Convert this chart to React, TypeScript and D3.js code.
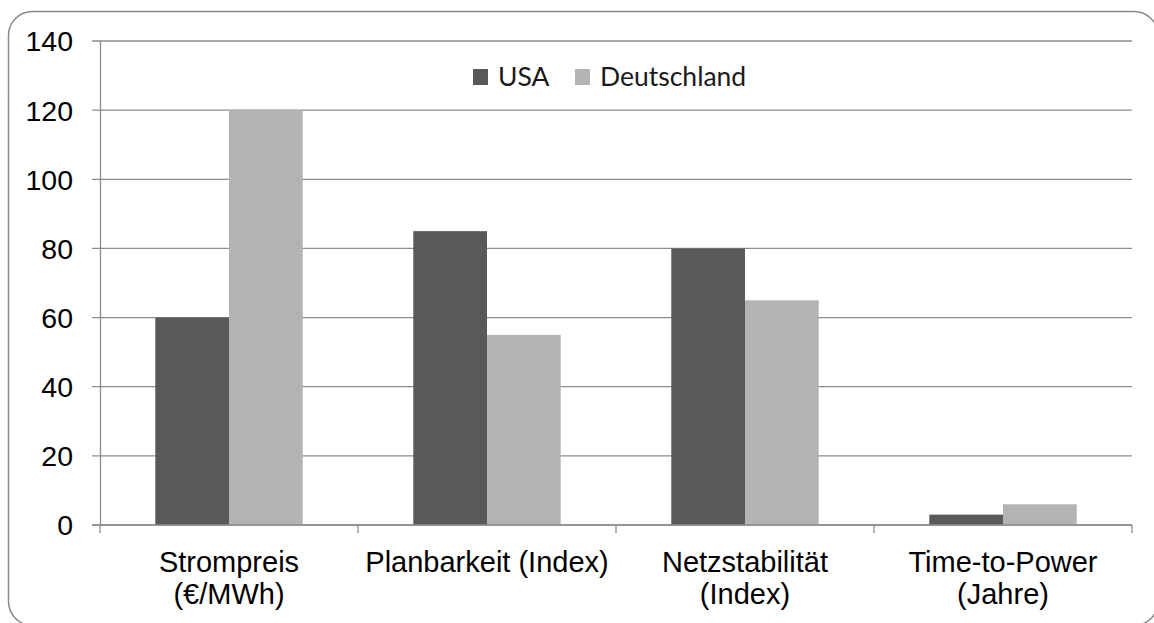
import { useEffect, useRef } from 'react'
import * as d3 from 'd3'

// Chart data
const categories = ['Strompreis', 'Planbarkeit', 'Netzstabilität', 'Time-to-Power']
const categoryLines = [
  ['Strompreis', '(€/MWh)'],
  ['Planbarkeit (Index)'],
  ['Netzstabilität', '(Index)'],
  ['Time-to-Power', '(Jahre)'],
]
const seriesNames = ['USA', 'Deutschland']
const usaValues = [60, 85, 80, 3]
const deutschlandValues = [120, 55, 65, 6]
const yTicks = [0, 20, 40, 60, 80, 100, 120, 140]

const seriesColors = ['#595959', '#b3b3b3']
const gridColor = '#8c8c8c'
const axisFont = '"Liberation Sans", Arial, sans-serif'
const legendFont = 'Lato, "Open Sans", sans-serif'

export default function App() {
  const svgRef = useRef<SVGSVGElement>(null)

  useEffect(() => {
    if (!svgRef.current) return
    const svg = d3.select(svgRef.current)
    svg.selectAll('*').remove()

    const width = 1154
    const height = 623
    const margin = { top: 41, right: 22, bottom: 98, left: 100 }
    const innerWidth = width - margin.left - margin.right
    const innerHeight = height - margin.top - margin.bottom

    // Outer rounded frame
    svg
      .append('rect')
      .attr('x', 8.5)
      .attr('y', 11.5)
      .attr('width', 1149.5)
      .attr('height', 614)
      .attr('rx', 24)
      .attr('fill', 'white')
      .attr('stroke', '#8a8a8a')
      .attr('stroke-width', 1.5)

    const g = svg.append('g').attr('transform', `translate(${margin.left},${margin.top})`)

    const x0 = d3.scaleBand<string>().domain(categories).range([0, innerWidth]).padding(0)
    const x1 = d3
      .scaleBand<string>()
      .domain(seriesNames)
      .range([0, x0.bandwidth()])
      .paddingInner(0)
      .paddingOuter(0.75)
    const y = d3.scaleLinear().domain([0, 140]).range([innerHeight, 0])

    // Gridlines (tick stub + line across)
    g.append('g')
      .selectAll('line')
      .data(yTicks)
      .join('line')
      .attr('x1', -8)
      .attr('x2', innerWidth)
      .attr('y1', (d) => y(d))
      .attr('y2', (d) => y(d))
      .attr('stroke', gridColor)
      .attr('stroke-width', 1.3)

    // Y axis line + labels
    const yAxis = d3.axisLeft(y).tickValues(yTicks).tickSize(0).tickSizeOuter(0).tickPadding(27)
    const yg = g.append('g').call(yAxis)
    yg.select('.domain').attr('stroke', gridColor).attr('stroke-width', 1.3)
    yg.selectAll('text')
      .attr('font-family', axisFont)
      .attr('font-size', '28.5px')
      .attr('fill', '#000')
      .attr('dy', '0.35em')

    // Bars
    const values = [usaValues, deutschlandValues]
    seriesNames.forEach((s, si) => {
      g.append('g')
        .selectAll('rect')
        .data(categories)
        .join('rect')
        .attr('x', (c) => (x0(c) ?? 0) + (x1(s) ?? 0))
        .attr('y', (_, i) => y(values[si][i]))
        .attr('width', x1.bandwidth())
        .attr('height', (_, i) => innerHeight - y(values[si][i]))
        .attr('fill', seriesColors[si])
    })

    // X axis line and boundary ticks
    g.append('line')
      .attr('x1', -8)
      .attr('x2', innerWidth)
      .attr('y1', innerHeight)
      .attr('y2', innerHeight)
      .attr('stroke', gridColor)
      .attr('stroke-width', 1.3)
    const bounds = [...categories.map((c) => x0(c) ?? 0), innerWidth]
    g.append('g')
      .selectAll('line')
      .data(bounds)
      .join('line')
      .attr('x1', (d) => d)
      .attr('x2', (d) => d)
      .attr('y1', innerHeight)
      .attr('y2', innerHeight + 8)
      .attr('stroke', gridColor)
      .attr('stroke-width', 1.3)

    // Category labels
    categories.forEach((c, i) => {
      const t = g
        .append('text')
        .attr('x', (x0(c) ?? 0) + x0.bandwidth() / 2)
        .attr('y', innerHeight + 47)
        .attr('text-anchor', 'middle')
        .attr('font-family', axisFont)
        .attr('font-size', '29px')
        .attr('fill', '#000')
      categoryLines[i].forEach((line, li) => {
        t.append('tspan')
          .attr('x', (x0(c) ?? 0) + x0.bandwidth() / 2)
          .attr('dy', li === 0 ? 0 : 32)
          .text(line)
      })
    })

    // Legend
    const legendX = [473, 575]
    seriesNames.forEach((s, i) => {
      svg
        .append('rect')
        .attr('x', legendX[i])
        .attr('y', 69)
        .attr('width', 15)
        .attr('height', 16)
        .attr('fill', seriesColors[i])
      svg
        .append('text')
        .attr('x', legendX[i] + 25)
        .attr('y', 86)
        .attr('font-family', legendFont)
        .attr('font-size', '26.5px')
        .attr('fill', '#1a1a1a')
        .text(s)
    })
  }, [])

  return (
    <div style={{ position: 'absolute', left: 0, top: 0 }}>
      <svg ref={svgRef} width={1154} height={623} style={{ display: 'block' }} />
    </div>
  )
}
